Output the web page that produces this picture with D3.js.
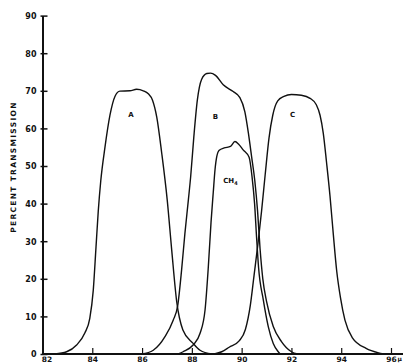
<!DOCTYPE html>
<html>
<head>
<meta charset="utf-8">
<script src="https://cdn.jsdelivr.net/npm/d3@7"></script>
<style>
  html, body { margin: 0; padding: 0; background: #fff; }
  svg { display: block; }
  text { font-family: "DejaVu Sans", sans-serif; font-weight: bold; fill: #111; }
</style>
</head>
<body>
<div id="chart"></div>
<script>
// wavelength (µ) vs percent transmission
const filterA = [[82.5,0],[82.97,0.6],[83.37,2.4],[83.7,5.6],[83.9,9.5],[84.04,17],[84.15,28.5],[84.24,38],[84.34,46],[84.51,55],[84.71,63.5],[84.91,68.5],[85.11,69.9],[85.51,70],[85.78,70.4],[86.05,70],[86.25,69.2],[86.42,67.5],[86.59,63],[86.79,53.4],[87.01,41],[87.19,27.7],[87.39,14],[87.64,6.4],[88.04,2.9],[88.33,1],[88.8,0]];
const filterB = [[85.98,0],[86.45,1],[86.92,4.6],[87.25,9],[87.43,12.8],[87.59,22.5],[87.72,32],[87.86,41],[87.95,47],[88.08,57.8],[88.22,67.5],[88.39,73],[88.6,74.6],[88.75,74.7],[88.95,74.1],[89.26,71.6],[89.66,69.8],[89.93,68.2],[90.13,64.4],[90.27,58.8],[90.4,52.5],[90.53,46],[90.64,38],[90.74,28],[90.85,20],[91.0,14],[91.27,7.3],[91.6,3.3],[92.0,0.6],[92.25,0]];
const filterC = [[88.9,0],[89.2,0.6],[89.5,1.8],[89.9,3.5],[90.15,6.5],[90.35,13],[90.5,21],[90.65,29],[90.8,38],[90.95,48],[91.1,57.5],[91.25,63.5],[91.45,67.3],[91.7,68.5],[92.0,69],[92.4,68.8],[92.75,68],[93.0,66.3],[93.15,63.5],[93.28,58.7],[93.41,51],[93.55,42],[93.68,32],[93.82,22],[93.97,15],[94.15,9],[94.45,4.3],[95.0,1.5],[95.5,0.3],[95.7,0]];
const methane = [[87.45,0],[87.65,0.6],[88.05,2.4],[88.33,5.5],[88.53,11.7],[88.66,23],[88.77,35],[88.86,43],[88.93,49],[89.0,52.5],[89.1,54.2],[89.3,54.8],[89.55,55.2],[89.73,56.5],[89.88,55.8],[90.06,54.3],[90.3,52.3],[90.42,47],[90.52,40],[90.6,31],[90.68,23],[90.87,14.4],[91.07,7.3],[91.27,2.8],[91.47,0.6],[91.55,0]];

const xTicks = [82, 84, 86, 88, 90, 92, 94, 96];
const xTickLabels = ["82", "84", "86", "88", "90", "92", "94", "96"];
const yTicks = [0, 10, 20, 30, 40, 50, 60, 70, 80, 90];

const curveLabels = [
  { text: "A", x: 85.55, y: 63 },
  { text: "B", x: 88.95, y: 62.5 },
  { text: "C", x: 92.05, y: 63 }
];

const width = 403, height = 363;
const x0 = 42.5, x1 = 391, yBase = 354, yTop = 15.6;

const svg = d3.select('#chart').append('svg')
  .attr('width', width)
  .attr('height', height);

const x = d3.scaleLinear().domain([82, 96]).range([x0, x1]);
const y = d3.scaleLinear().domain([0, 90]).range([yBase, yTop]);

// axes
const yAxis = svg.append('g')
  .attr('transform', `translate(${x0},0)`)
  .call(d3.axisLeft(y).tickValues(yTicks).tickSize(-5).tickSizeOuter(0).tickPadding(6).tickFormat(d3.format('d')));
yAxis.select('.domain').attr('stroke', '#111').attr('stroke-width', 2);
yAxis.selectAll('.tick line').attr('stroke', '#111').attr('stroke-width', 1.5).attr('x1', -2);
yAxis.selectAll('.tick text')
  .style('font-size', '8px')
  .attr('dy', '0.36em');

const xAxis = svg.append('g')
  .attr('transform', `translate(0,${yBase})`)
  .call(d3.axisBottom(x).tickValues(xTicks).tickSize(-6).tickSizeOuter(0).tickFormat((d, i) => xTickLabels[i]));
xAxis.select('.domain').attr('d', `M${x0},0H${width}`).attr('stroke', '#111').attr('stroke-width', 2);
xAxis.selectAll('.tick line').attr('stroke', '#111').attr('stroke-width', 1.2);
xAxis.selectAll('.tick').filter(d => d === 82).select('line').remove();
xAxis.selectAll('.tick text')
  .style('font-size', '7.5px')
  .attr('y', 0)
  .attr('dy', '8px')
  .attr('dx', d => d === 82 ? 4 : 0);

// micron unit after the last tick label
svg.append('text')
  .attr('x', x(96) + 6.5)
  .attr('y', yBase + 7)
  .style('font-size', '6px')
  .text('µ');

// y axis title
svg.append('text')
  .attr('transform', `translate(16,${167}) rotate(-90)`)
  .attr('text-anchor', 'middle')
  .style('font-size', '7.5px')
  .style('letter-spacing', '1.3px')
  .text('PERCENT TRANSMISSION');

// curves
const line = d3.line()
  .x(d => x(d[0]))
  .y(d => y(d[1]))
  .curve(d3.curveMonotoneX);

[filterA, filterB, filterC, methane].forEach(series => {
  svg.append('path')
    .datum(series)
    .attr('d', line)
    .attr('fill', 'none')
    .attr('stroke', '#111')
    .attr('stroke-width', 1.4)
    .attr('stroke-linejoin', 'round');
});

// curve labels
svg.selectAll('.curve-label')
  .data(curveLabels)
  .enter()
  .append('text')
  .attr('class', 'curve-label')
  .attr('x', d => x(d.x))
  .attr('y', d => y(d.y))
  .attr('text-anchor', 'middle')
  .style('font-size', '7px')
  .text(d => d.text);

const ch4 = svg.append('text')
  .attr('x', x(89.55))
  .attr('y', y(45.6))
  .attr('text-anchor', 'middle')
  .style('font-size', '7px');
ch4.append('tspan').text('CH');
ch4.append('tspan').attr('dy', 2).style('font-size', '5px').text('4');
</script>
</body>
</html>
